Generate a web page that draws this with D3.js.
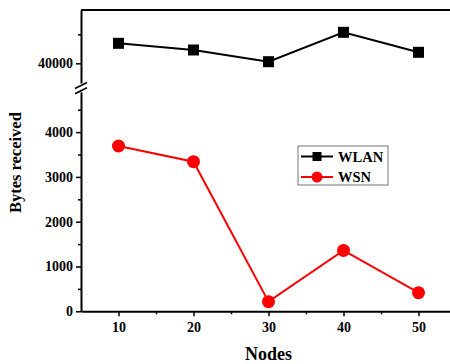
<!DOCTYPE html>
<html>
<head>
<meta charset="utf-8">
<script src="https://cdn.jsdelivr.net/npm/d3@7"></script>
<style>
  html, body { margin: 0; padding: 0; background: #fff; }
  svg { display: block; }
  text { font-family: "Liberation Serif", "Times New Roman", serif; font-weight: bold; }
</style>
</head>
<body>
<svg id="chart" width="450" height="364"></svg>
<script>
// Data
const nodes = [10, 20, 30, 40, 50];
const wlanBytes = [43450, 42300, 40280, 45350, 41900];
const wsnBytes = [3690, 3340, 215, 1360, 415];

const xTicks = [10, 20, 30, 40, 50];
const xMinorTicks = [15, 25, 35, 45];
const yLowTicks = [0, 1000, 2000, 3000, 4000];
const yLowMinorTicks = [500, 1500, 2500, 3500, 4500];
const yHighTicks = [40000];
const yHighMinorTicks = [45000];

const svg = d3.select("#chart");

// Layout
const plotLeft = 81, plotRight = 456, plotTop = 10, plotBottom = 311.3;
const breakLow = 91.8, breakHigh = 86.5;

const x = d3.scaleLinear().domain([5, 55]).range([plotLeft, plotRight]);
const yLow = d3.scaleLinear().domain([0, 4900]).range([plotBottom, breakLow]);
const yHigh = d3.scaleLinear().domain([36000, 49200]).range([breakHigh, plotTop]);

// Frame: top border
svg.append("line")
  .attr("x1", plotLeft).attr("x2", plotRight)
  .attr("y1", plotTop).attr("y2", plotTop)
  .attr("stroke", "#000").attr("stroke-width", 2);

// Y axes (two segments)
function styleAxis(g) {
  g.select(".domain").attr("stroke", "#000").attr("stroke-width", 2);
  g.selectAll(".tick line").attr("stroke", "#000").attr("stroke-width", 1.5);
  g.selectAll(".tick text").attr("fill", "#000").style("font-size", "14px");
}
function styleMinor(g) {
  g.select(".domain").remove();
  g.selectAll("line").attr("stroke", "#000").attr("stroke-width", 1.5);
}

const yLowAxis = svg.append("g").attr("transform", `translate(${plotLeft},0)`)
  .call(d3.axisLeft(yLow).tickValues(yLowTicks).tickSize(5).tickSizeOuter(0).tickPadding(3).tickFormat(d3.format("d")));
styleAxis(yLowAxis);
svg.append("g").attr("transform", `translate(${plotLeft},0)`)
  .call(d3.axisLeft(yLow).tickValues(yLowMinorTicks).tickSize(3).tickSizeOuter(0).tickFormat(""))
  .call(styleMinor);

const yHighAxis = svg.append("g").attr("transform", `translate(${plotLeft},0)`)
  .call(d3.axisLeft(yHigh).tickValues(yHighTicks).tickSize(5).tickSizeOuter(0).tickPadding(3).tickFormat(d3.format("d")));
styleAxis(yHighAxis);
svg.append("g").attr("transform", `translate(${plotLeft},0)`)
  .call(d3.axisLeft(yHigh).tickValues(yHighMinorTicks).tickSize(3).tickSizeOuter(0).tickFormat(""))
  .call(styleMinor);

// Axis break marks
const breakG = svg.append("g");
breakG.append("rect").attr("x", plotLeft - 3).attr("y", breakHigh - 3)
  .attr("width", 6).attr("height", breakLow - breakHigh + 3).attr("fill", "#fff");
[breakHigh - 1, breakLow - 1].forEach(yy => {
  breakG.append("line")
    .attr("x1", plotLeft - 6).attr("y1", yy + 3)
    .attr("x2", plotLeft + 6).attr("y2", yy - 3)
    .attr("stroke", "#000").attr("stroke-width", 1.6);
});

// X axis
const xAxis = svg.append("g").attr("transform", `translate(0,${plotBottom})`)
  .call(d3.axisBottom(x).tickValues(xTicks).tickSize(5).tickSizeOuter(0).tickPadding(6));
styleAxis(xAxis);
svg.append("g").attr("transform", `translate(0,${plotBottom})`)
  .call(d3.axisBottom(x).tickValues(xMinorTicks).tickSize(3).tickSizeOuter(0).tickFormat(""))
  .call(styleMinor);

// Axis titles
svg.append("text")
  .attr("x", (plotLeft + plotRight) / 2).attr("y", 360)
  .attr("text-anchor", "middle").style("font-size", "18px")
  .text("Nodes");
svg.append("text")
  .attr("transform", `translate(21,${(plotTop + plotBottom) / 2 + 2}) rotate(-90)`)
  .attr("text-anchor", "middle").style("font-size", "16.5px")
  .text("Bytes received");

// WLAN series (upper segment)
const wlanPts = nodes.map((n, i) => [x(n), yHigh(wlanBytes[i])]);
svg.append("path")
  .attr("d", d3.line()(wlanPts))
  .attr("fill", "none").attr("stroke", "#000").attr("stroke-width", 2);
svg.append("g").selectAll("rect").data(wlanPts).join("rect")
  .attr("x", d => d[0] - 5.5).attr("y", d => d[1] - 5.5)
  .attr("width", 11).attr("height", 11).attr("fill", "#000");

// WSN series (lower segment)
const wsnPts = nodes.map((n, i) => [x(n), yLow(wsnBytes[i])]);
svg.append("path")
  .attr("d", d3.line()(wsnPts))
  .attr("fill", "none").attr("stroke", "#ff0000").attr("stroke-width", 2);
svg.append("g").selectAll("circle").data(wsnPts).join("circle")
  .attr("cx", d => d[0]).attr("cy", d => d[1])
  .attr("r", 6.5).attr("fill", "#ff0000");

// Legend
const legend = svg.append("g").attr("transform", "translate(298,146)");
legend.append("rect").attr("x", 0).attr("y", 0).attr("width", 90).attr("height", 39)
  .attr("fill", "#fff").attr("stroke", "#777").attr("stroke-width", 1);
const legendItems = [
  { name: "WLAN", color: "#000", shape: "square" },
  { name: "WSN", color: "#ff0000", shape: "circle" }
];
legendItems.forEach((it, i) => {
  const cy = 10.5 + i * 20.5;
  legend.append("line").attr("x1", 3).attr("x2", 35).attr("y1", cy).attr("y2", cy)
    .attr("stroke", it.color).attr("stroke-width", 2);
  if (it.shape === "square") {
    legend.append("rect").attr("x", 19 - 4.5).attr("y", cy - 4.5).attr("width", 9).attr("height", 9).attr("fill", it.color);
  } else {
    legend.append("circle").attr("cx", 19).attr("cy", cy).attr("r", 5.5).attr("fill", it.color);
  }
  legend.append("text").attr("x", 40).attr("y", cy + 5).style("font-size", "14.5px").text(it.name);
});
</script>
</body>
</html>
